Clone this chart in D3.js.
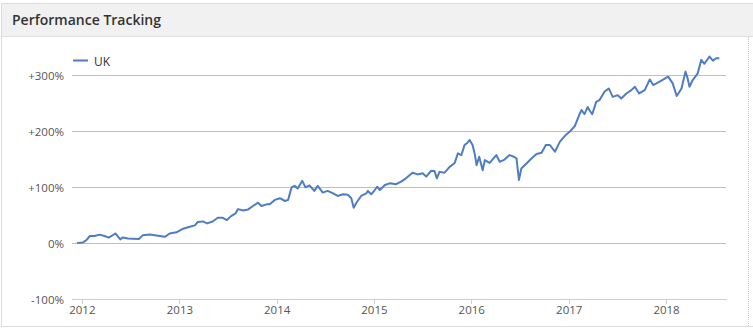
<!DOCTYPE html>
<html><head><meta charset="utf-8">
<script src="https://cdn.jsdelivr.net/npm/d3@7"></script>
<style>
html,body{margin:0;padding:0;background:#fff;}
svg{display:block;font-family:"Open Sans",sans-serif;}
</style></head>
<body><svg id="chart" width="753" height="331"></svg>
<script>
const title = "Performance Tracking";
const seriesName = "UK";
const dates = ["2011-12-14","2012-01-05","2012-01-18","2012-01-31","2012-02-18","2012-03-07","2012-03-26","2012-04-11","2012-05-06","2012-05-24","2012-06-03","2012-06-22","2012-07-10","2012-08-02","2012-08-17","2012-09-12","2012-10-01","2012-10-19","2012-11-07","2012-11-26","2012-12-21",
"2013-01-15","2013-02-09","2013-02-28","2013-03-11","2013-03-30","2013-04-15","2013-05-06","2013-05-25","2013-06-13","2013-06-28","2013-07-14","2013-07-31","2013-08-09","2013-08-28","2013-09-16","2013-10-04","2013-10-23","2013-11-05","2013-11-24","2013-12-06","2013-12-25",
"2014-01-13","2014-02-01","2014-02-13","2014-02-26","2014-03-09","2014-03-21","2014-04-07","2014-04-19","2014-05-04","2014-05-22","2014-06-04","2014-06-23","2014-07-11","2014-07-30","2014-08-18","2014-09-07","2014-09-25","2014-10-08","2014-10-17","2014-10-26","2014-11-14","2014-12-03","2014-12-09","2014-12-22",
"2015-01-04","2015-01-13","2015-01-23","2015-02-11","2015-03-01","2015-03-25","2015-04-13","2015-05-01","2015-05-26","2015-06-14","2015-07-03","2015-07-16","2015-08-04","2015-08-16","2015-08-25","2015-09-04","2015-09-23","2015-10-12","2015-10-31","2015-11-12","2015-11-25","2015-12-07","2015-12-18","2015-12-26",
"2016-01-06","2016-01-15","2016-01-21","2016-01-31","2016-02-13","2016-02-21","2016-03-10","2016-04-04","2016-04-17","2016-05-05","2016-05-24","2016-06-09","2016-06-19","2016-06-28","2016-07-07","2016-07-26","2016-08-14","2016-09-02","2016-09-21","2016-10-07","2016-10-22","2016-11-10","2016-11-29","2016-12-21",
"2017-01-05","2017-01-24","2017-02-09","2017-02-18","2017-03-01","2017-03-13","2017-03-19","2017-03-30","2017-04-14","2017-04-26","2017-05-15","2017-05-31","2017-06-15","2017-07-04","2017-07-17","2017-08-05","2017-08-24","2017-09-06","2017-09-22","2017-10-13","2017-11-01","2017-11-14","2017-12-08",
"2018-01-09","2018-01-26","2018-02-10","2018-02-28","2018-03-15","2018-03-23","2018-03-30","2018-04-11","2018-04-30","2018-05-13","2018-05-25","2018-06-13","2018-06-26","2018-07-08","2018-07-20"];
const ukValues = [0,1,5,12.5,12.5,15,12.5,9.5,17,6.5,10,8,7.5,7,14,15,14,12.5,11,17,19,
25.5,29,31.5,37.5,38.5,35,38.5,45,45,41,48,53,60.5,58,60,66,72,66,69,69,77,
80,75,77,99.5,102,97.5,111,99.5,103,93,102,90,93,89,84,87,86,80,63,71,84,88.5,93,87,
94.6,100.5,94.6,103.5,106.5,105,109.5,115.5,125.5,122.5,124.5,118.5,129,128.5,115.5,127,125.5,136,143,160,157,175,179,184,
175,157,139,154,130,148,143,157,145,149,157,154,151,112.5,133,142,151,159,161,175,175,163,181,193,
199,209,228.5,237.5,230,243,237.5,230,252,255,270,276,261,264,258,267,273,279,267,273,292,282,288,
297,285,262.5,276,306,294,279,291,303,327,320,333,325.5,330,330];
const yTicks = [-100,0,100,200,300];
const xDomain = ["2011-11-25","2018-08-14"];

const parse = d3.utcParse("%Y-%m-%d");
const data = dates.map((d,i)=>({date:parse(d), value:ukValues[i]}));

const svg = d3.select("#chart");
const W = 753, H = 331;
const plot = {left:72, right:726, top:75, bottom:299};

// panel
svg.append("rect").attr("x",1.5).attr("y",3.5).attr("width",W+10).attr("height",323)
  .attr("fill","#fff").attr("stroke","#dcdcdc");
svg.append("rect").attr("x",2).attr("y",4).attr("width",W).attr("height",32).attr("fill","#f1f1f1");
svg.append("line").attr("x1",2).attr("x2",W).attr("y1",36.5).attr("y2",36.5).attr("stroke","#e0e0e0");
svg.append("line").attr("x1",748.5).attr("x2",748.5).attr("y1",37).attr("y2",326)
  .attr("stroke","#c8c8c8").attr("stroke-dasharray","1,1");
svg.append("text").attr("x",12).attr("y",25).text(title)
  .attr("font-size",14).attr("font-weight",600).attr("fill","#333");

const x = d3.scaleUtc().domain(xDomain.map(parse)).range([plot.left, plot.right]);
const y = d3.scaleLinear().domain([-100,300]).range([plot.bottom, plot.top]);

// y grid + labels
const yAxis = svg.append("g").attr("transform",`translate(${plot.left},0)`)
  .call(d3.axisLeft(y).tickValues(yTicks).tickSize(-(plot.right-plot.left)).tickPadding(8)
    .tickFormat(d => d > 0 ? "+" + d + "%" : d + "%"));
yAxis.select(".domain").remove();
yAxis.selectAll(".tick line").attr("stroke","#c0c0c0").attr("shape-rendering","crispEdges");
yAxis.selectAll(".tick text").attr("font-family","'Open Sans',sans-serif").attr("font-size",11.5)
  .attr("fill","#555").attr("dy","0.42em");

// x axis
const xAxis = svg.append("g").attr("transform",`translate(0,${plot.bottom})`)
  .call(d3.axisBottom(x).ticks(d3.utcYear.every(1)).tickFormat(d3.utcFormat("%Y")).tickSize(5).tickPadding(2).tickSizeOuter(0));
xAxis.select(".domain").attr("stroke","#c0d0e0").attr("shape-rendering","crispEdges");
xAxis.selectAll(".tick line").attr("stroke","#c0d0e0").attr("shape-rendering","crispEdges");
xAxis.selectAll(".tick text").attr("font-family","'Open Sans',sans-serif").attr("font-size",11.5).attr("fill","#555");

// line
const line = d3.line().x(d=>x(d.date)).y(d=>y(d.value));
svg.append("path").datum(data).attr("d",line).attr("fill","none")
  .attr("stroke","#4f7dc3").attr("stroke-width",2).attr("stroke-linejoin","round");

// legend
const lg = svg.append("g");
lg.append("line").attr("x1",73).attr("x2",88).attr("y1",60.5).attr("y2",60.5)
  .attr("stroke","#4f7dc3").attr("stroke-width",2);
lg.append("text").attr("x",94).attr("y",65.5).text(seriesName)
  .attr("font-size",12).attr("fill","#333");
</script>
</body></html>
